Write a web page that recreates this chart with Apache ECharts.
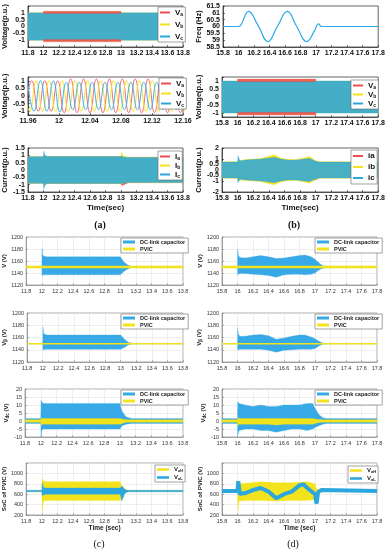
<!DOCTYPE html>
<html><head><meta charset="utf-8">
<script src="https://cdn.jsdelivr.net/npm/echarts/dist/echarts.min.js"></script>
<style>html,body{margin:0;padding:0;background:#fff}#c{width:388px;height:550px}</style>
</head><body><div id="c"></div><script>
// ---------- DATA ----------
// (a) top: three-phase voltage envelopes, 11.8-13.8 s
const A1_T = [11.8, 12.0, 12.001, 13.0, 13.001, 13.8];
const A1_VB_HI = [1, 1, 1.08, 1.08, 1, 1];
const A1_VB_LO = [-1, -1, -1.08, -1.08, -1, -1];
const A1_VC_HI = [1, 1, 1, 1, 1, 1];
const A1_VC_LO = [-1, -1, -1, -1, -1, -1];
const A1_VA_T = [12.0, 13.0];
const A1_VA_TOP_LO = [0.96, 0.96], A1_VA_TOP_HI = [1.12, 1.12];
const A1_VA_BOT_LO = [-1.12, -1.12], A1_VA_BOT_HI = [-0.96, -0.96];
// (b) top: frequency
const B1_T = [15.8, 16.0, 16.03, 16.13, 16.25, 16.38, 16.5, 16.63, 16.75, 16.88, 16.98, 17.03, 17.07, 17.8];
const B1_F = [60, 60, 60.1, 61.1, 60.1, 58.9, 60, 61.1, 60, 58.9, 59.7, 60.2, 60.0, 60];
// (a) middle: zoomed three-phase voltages (peaks / troughs)
const A2_VA_T = [11.9567,11.965,11.9733,11.9817,11.99,11.9983,12.0067,12.015,12.0233,12.0317,12.04,12.0483,12.0567,12.065,12.0733,12.0817,12.09,12.0983,12.1067,12.115,12.1233,12.1317,12.14,12.1483,12.1567,12.165];
const A2_VA_V = [-1,1,-1,1,-1,1,-1.1,1.12,-1.1,1.12,-1.1,1.12,-1.1,1.12,-1.1,1.12,-1.1,1.12,-1.1,1.12,-1.1,1.12,-1.1,1.12,-1.1,1.12];
const A2_VB_T = [11.9539,11.9622,11.9706,11.9789,11.9872,11.9956,12.0039,12.0122,12.0206,12.0289,12.0372,12.0456,12.0539,12.0622,12.0706,12.0789,12.0872,12.0956,12.1039,12.1122,12.1206,12.1289,12.1372,12.1456,12.1539,12.1622];
const A2_VB_V = [1,-1,1,-1,1,-1,1,-1,1,-1,1,-1,1,-1,1,-1,1,-1,1,-1,1,-1,1,-1,1,-1];
const A2_VC_T = [11.9594,11.9678,11.9761,11.9844,11.9928,12.0011,12.0094,12.0178,12.0261,12.0344,12.0428,12.0511,12.0594,12.0678,12.0761,12.0844,12.0928,12.1011,12.1094,12.1178,12.1261,12.1344,12.1428,12.1511,12.1594,12.1678];
const A2_VC_V = [1,-1,1,-1,1,-1.05,0.9,-0.9,0.9,-0.9,0.9,-0.9,0.9,-0.9,0.9,-0.9,0.9,-0.9,0.9,-0.9,0.9,-0.9,0.9,-0.9,0.9,-0.9];
// (b) middle: voltage envelopes, 15.8-17.8 s
const B2_T = [15.8, 16.0, 16.001, 17.0, 17.001, 17.8];
const B2_VB_HI = [1, 1, 1.08, 1.08, 1, 1];
const B2_VB_LO = [-1, -1, -1.08, -1.08, -1, -1];
const B2_VC_HI = [1, 1, 1, 1, 1, 1];
const B2_VC_LO = [-1, -1, -1, -1, -1, -1];
const B2_VA_T = [16.0, 17.0];
const B2_VA_TOP_LO = [0.96, 0.96], B2_VA_TOP_HI = [1.12, 1.12];
const B2_VA_BOT_LO = [-1.12, -1.12], B2_VA_BOT_HI = [-0.96, -0.96];
// (a) bottom: current envelopes
const A3_T = [11.8, 12.0, 12.004, 12.02, 12.05, 13.0, 13.004, 13.03, 13.1, 13.8];
const A3_IA_HI = [0.9, 0.9, 0.95, 0.93, 0.92, 0.92, 0.95, 0.9, 0.86, 0.86];
const A3_IA_LO = [-0.9, -0.9, -1.0, -0.95, -0.92, -0.92, -1.05, -1.02, -0.86, -0.86];
const A3_IB_HI = [0.9, 0.9, 1.0, 0.95, 0.92, 0.92, 1.22, 0.95, 0.86, 0.86];
const A3_IB_LO = [-0.9, -0.9, -1.2, -0.98, -0.92, -0.92, -1.0, -0.9, -0.86, -0.86];
const A3_IC_HI = [0.9, 0.9, 1.3, 1.0, 0.92, 0.92, 0.95, 0.88, 0.86, 0.86];
const A3_IC_LO = [-0.9, -0.9, -1.3, -1.0, -0.92, -0.92, -0.95, -0.9, -0.86, -0.86];
// (b) bottom: current envelopes
const B3_T = [15.8, 16.0, 16.004, 16.03, 16.1, 16.2, 16.3, 16.4, 16.47, 16.55, 16.65, 16.75, 16.85, 16.92, 17.0, 17.05, 17.8];
const B3_IA_HI = [0.7, 0.7, 0.72, 0.75, 0.8, 0.85, 0.9, 1.0, 1.05, 0.95, 0.85, 0.85, 0.95, 1.0, 0.78, 0.7, 0.7];
const B3_IA_LO = [-0.7, -0.7, -0.75, -0.75, -0.8, -0.85, -0.9, -1.0, -1.05, -0.95, -0.85, -0.85, -0.95, -1.0, -0.9, -0.7, -0.7];
const B3_IB_HI = [0.75, 0.75, 0.8, 0.85, 0.95, 1.0, 1.05, 1.25, 1.38, 1.1, 0.95, 0.95, 1.1, 1.22, 0.85, 0.75, 0.75];
const B3_IB_LO = [-0.75, -0.75, -1.1, -0.9, -0.95, -1.0, -1.05, -1.25, -1.35, -1.1, -0.95, -0.95, -1.1, -1.2, -0.85, -0.75, -0.75];
const B3_IC_HI = [0.72, 0.72, 1.3, 0.85, 0.9, 0.95, 1.0, 1.1, 1.15, 1.0, 0.9, 0.9, 1.0, 1.05, 0.8, 0.72, 0.72];
const B3_IC_LO = [-0.72, -0.72, -1.15, -0.85, -0.9, -0.95, -1.0, -1.1, -1.15, -1.0, -0.9, -0.9, -1.0, -1.05, -0.8, -0.72, -0.72];
// (c) V alpha
const C1_T = [11.8, 12.0, 12.003, 12.01, 12.03, 12.06, 12.1, 13.0, 13.05, 13.1, 13.15, 13.8];
const C1_DC_HI = [1151, 1151, 1181, 1170, 1168, 1167, 1167, 1167, 1158, 1153, 1151, 1151];
const C1_DC_LO = [1149, 1149, 1135, 1137, 1137, 1137, 1137, 1137, 1143, 1147, 1149, 1149];
const C1_PVIC = [1150, 1150, 1150, 1150, 1150, 1150, 1150, 1150, 1150, 1150, 1150, 1150];
// (c) V beta
const C2_DC_HI = [1150.5, 1150.5, 1177, 1167, 1165, 1164, 1164, 1164, 1157, 1152, 1150.5, 1150.5];
const C2_DC_LO = [1149.5, 1149.5, 1140, 1140, 1141, 1141, 1141, 1141, 1144, 1148, 1149.5, 1149.5];
const C2_PVIC = [1150, 1150, 1150, 1150, 1150, 1150, 1150, 1150, 1150, 1150, 1150, 1150];
// (c) Vdc
const C3_T = [11.8, 12.0, 12.003, 12.01, 12.03, 12.1, 13.0, 13.03, 13.08, 13.15, 13.8];
const C3_DC_HI = [1.5, 1.5, 13, 12, 11, 11, 11, 6, 2.5, 1.5, 1.5];
const C3_DC_LO = [-1.5, -1.5, -10, -6, -5, -5, -5, -3, -2, -1.5, -1.5];
const C3_PV_HI = [0.8, 0.8, 2, 1.6, 1.5, 1.5, 1.5, 1.2, 0.8, 0.8, 0.8];
const C3_PV_LO = [-0.8, -0.8, -3, -2, -2, -2, -2, -1.5, -0.8, -0.8, -0.8];
// (c) SoC of PVIC
const C4_T = [11.8, 12.0, 12.005, 12.02, 12.05, 12.1, 13.0, 13.02, 13.06, 13.1, 13.8];
const C4_VAH_HI = [670, 670, 900, 860, 840, 840, 840, 760, 700, 670, 670];
const C4_VAH_LO = [650, 650, 280, 470, 480, 480, 480, 540, 620, 650, 650];
const C4_VAL_HI = [675, 675, 820, 730, 720, 720, 720, 760, 690, 675, 675];
const C4_VAL_LO = [645, 645, 560, 590, 600, 600, 600, 470, 620, 645, 645];
// (d) V alpha
const D1_T = [15.8, 16.0, 16.003, 16.01, 16.03, 16.1, 16.2, 16.3, 16.4, 16.5, 16.6, 16.7, 16.8, 16.87, 16.95, 17.0, 17.05, 17.1, 17.15, 17.8];
const D1_DC_HI = [1151, 1151, 1180, 1170, 1166, 1165, 1167, 1169, 1167, 1164, 1165, 1167, 1169, 1170, 1167, 1163, 1157, 1152, 1151, 1151];
const D1_DC_LO = [1149, 1149, 1137, 1138, 1139, 1139, 1138, 1137, 1136, 1133, 1137, 1138, 1138, 1137, 1138, 1140, 1145, 1148, 1149, 1149];
const D1_PVIC = [1150, 1150, 1150, 1150, 1150, 1150, 1150, 1150, 1150, 1150, 1150, 1150, 1150, 1150, 1150, 1150, 1150, 1150, 1150, 1150];
// (d) V beta
const D2_DC_HI = [1150.5, 1150.5, 1176, 1166, 1162, 1162, 1164, 1165, 1163, 1157, 1159, 1162, 1164, 1164, 1161, 1158, 1154, 1151, 1150.5, 1150.5];
const D2_DC_LO = [1149.5, 1149.5, 1140, 1140, 1141, 1141, 1141, 1141, 1139, 1136, 1139, 1140, 1141, 1141, 1141, 1142, 1146, 1149, 1149.5, 1149.5];
const D2_PVIC = [1150, 1150, 1150, 1150, 1150, 1150, 1150, 1150, 1150, 1150, 1150, 1150, 1150, 1150, 1150, 1150, 1150, 1150, 1150, 1150];
// (d) Vdc
const D3_T = [15.8, 16.0, 16.003, 16.02, 16.1, 16.2, 16.3, 16.4, 16.5, 16.6, 16.7, 16.8, 16.9, 16.97, 17.0, 17.05, 17.1, 17.15, 17.8];
const D3_DC_HI = [1.5, 1.5, 12, 11, 10, 9, 10, 9, 9, 10, 10, 10, 11, 11, 8, 4, 2, 1.5, 1.5];
const D3_DC_LO = [-1.5, -1.5, -9, -6, -5, -5, -6, -6, -7, -6, -5, -5, -6, -5, -4, -3, -2, -1.5, -1.5];
const D3_PV_HI = [0.8, 0.8, 2, 1.5, 1.5, 1.5, 1.5, 1.5, 1.5, 1.5, 1.5, 1.5, 1.5, 1.5, 1.2, 0.9, 0.8, 0.8, 0.8];
const D3_PV_LO = [-0.8, -0.8, -3, -2, -2, -2, -2, -2, -2.5, -2, -2, -2, -2, -2, -1.5, -1, -0.8, -0.8, -0.8];
// (d) SoC of PVIC
const D4_T = [15.8, 16.0, 16.005, 16.02, 16.1, 16.3, 16.5, 16.7, 16.9, 17.0, 17.02, 17.06, 17.1, 17.8];
const D4_VAH_HI = [670, 670, 880, 800, 810, 840, 820, 820, 840, 800, 700, 690, 670, 670];
const D4_VAH_LO = [650, 650, 280, 470, 480, 480, 470, 480, 480, 500, 560, 620, 650, 650];
const D4_VAL_T = [15.8, 16.0, 16.01, 16.03, 16.06, 16.1, 16.2, 16.3, 16.4, 16.5, 16.55, 16.6, 16.7, 16.8, 16.85, 16.9, 17.0, 17.02, 17.04, 17.08, 17.1, 17.8];
const D4_VAL = [660, 660, 850, 600, 620, 620, 680, 720, 650, 520, 560, 600, 650, 770, 790, 720, 600, 420, 640, 680, 660, 660];

// ---------- CHART ----------
const RED = '#ef4e50', YEL = '#f2e31c', BLU = '#2ba6df', DCB = '#36a9e6';
const FONT = 'Liberation Sans';
const fmt = v => String(+(+v).toFixed(2));

const gridPos = [
  [25, 6, 158, 41], [223, 6, 156, 41],
  [25, 77, 158, 38], [222, 77, 157, 40],
  [25, 148, 158, 44], [222, 148, 157, 44],
  [25, 237, 158, 48], [222, 237, 155, 48],
  [25, 313, 158, 49], [222, 313, 155, 49],
  [25, 389, 158, 48], [222, 389, 155, 48],
  [25, 463, 158, 52], [222, 463, 155, 52]
];
const grid = gridPos.map((g, i) => ({left: g[0], top: g[1], width: g[2], height: g[3], show: true,
  borderColor: i < 6 ? '#222' : '#8a8a8a', borderWidth: 0.7, backgroundColor: '#fff'}));

function axisTop(gi, min, max, interval, hide) {
  return {gridIndex: gi, type: 'value', min, max, interval,
    axisLine: {onZero: false, lineStyle: {color: '#222', width: 0.7}},
    axisTick: {inside: true, length: 2, lineStyle: {color: '#222', width: 0.6}},
    splitLine: {show: false},
    axisLabel: {fontSize: 7, fontWeight: 'bold', color: '#111', fontFamily: FONT, margin: 3,
      showMinLabel: true, showMaxLabel: true,
      formatter: v => (hide && hide(v)) ? '' : fmt(v)}};
}
function axisBot(gi, min, max, interval, hide) {
  return {gridIndex: gi, type: 'value', min, max, interval,
    axisLine: {onZero: false, lineStyle: {color: '#777', width: 0.6}},
    axisTick: {inside: true, length: 2, lineStyle: {color: '#777', width: 0.5}},
    splitLine: {show: true, lineStyle: {color: '#e2e2e2', width: 0.6}},
    axisLabel: {fontSize: 5.5, color: '#333', fontFamily: FONT, margin: 3,
      showMinLabel: true, showMaxLabel: true,
      formatter: v => (hide && hide(v)) ? '' : fmt(v)}};
}
const topName = {fontSize: 7.5, fontWeight: 'bold', color: '#111', fontFamily: FONT};
const botName = {fontSize: 6, fontWeight: 'bold', color: '#222', fontFamily: FONT,
  rich: {m: {fontSize: 6, fontWeight: 'bold', fontFamily: FONT, color: '#222'},
         s: {fontSize: 4.5, fontWeight: 'bold', fontFamily: FONT, color: '#222', padding: [3, 0, 0, 0]}}};

const xAxis = [
  axisTop(0, 11.8, 13.8, 0.2), axisTop(1, 15.8, 17.8, 0.2),
  axisTop(2, 11.96, 12.16, 0.04), axisTop(3, 15.8, 17.8, 0.2),
  Object.assign(axisTop(4, 11.8, 13.8, 0.2), {name: 'Time(sec)', nameLocation: 'middle', nameGap: 12, nameTextStyle: {fontSize: 8, fontWeight: 'bold', color: '#111', fontFamily: FONT}}),
  Object.assign(axisTop(5, 15.8, 17.8, 0.2), {name: 'Time(sec)', nameLocation: 'middle', nameGap: 12, nameTextStyle: {fontSize: 8, fontWeight: 'bold', color: '#111', fontFamily: FONT}}),
  axisBot(6, 11.8, 13.8, 0.2), axisBot(7, 15.8, 17.8, 0.2),
  axisBot(8, 11.8, 13.8, 0.2), axisBot(9, 15.8, 17.8, 0.2),
  axisBot(10, 11.8, 13.8, 0.2), axisBot(11, 15.8, 17.8, 0.2),
  Object.assign(axisBot(12, 11.8, 13.8, 0.2), {name: 'Time (sec)', nameLocation: 'middle', nameGap: 9, nameTextStyle: {fontSize: 6.5, fontWeight: 'bold', color: '#222', fontFamily: FONT}}),
  Object.assign(axisBot(13, 15.8, 17.8, 0.2), {name: 'Time (sec)', nameLocation: 'middle', nameGap: 9, nameTextStyle: {fontSize: 6.5, fontWeight: 'bold', color: '#222', fontFamily: FONT}})
];
const hide1 = v => Math.abs(v) > 1.01 || Math.abs(v * 2 - Math.round(v * 2)) > 0.01;
function yn(ax, name, gap, style) { return Object.assign(ax, {name, nameLocation: 'middle', nameGap: gap, nameRotate: 90, nameTextStyle: style}); }
const yAxis = [
  yn(axisTop(0, -1.5, 1.5, 0.5, hide1), 'Voltage(p.u.)', 13, topName),
  yn(axisTop(1, 58.5, 61.5, 0.5), 'Freq (Hz)', 20, topName),
  yn(axisTop(2, -1.25, 1.25, 0.25, hide1), 'Voltage(p.u.)', 13, topName),
  yn(axisTop(3, -1.25, 1.25, 0.25, hide1), 'Voltage(p.u.)', 13, topName),
  yn(axisTop(4, -1.5, 1.5, 0.5), 'Current(p.u.)', 15, topName),
  yn(axisTop(5, -2, 2, 0.5), 'Current(p.u.)', 15, topName),
  yn(axisBot(6, 1120, 1200, 20), 'V (V)', 15, botName),
  yn(axisBot(7, 1120, 1200, 20), 'V (V)', 15, botName),
  yn(axisBot(8, 1120, 1200, 20), '{m|V}{s|β}{m| (V)}', 15, botName),
  yn(axisBot(9, 1120, 1200, 20), '{m|V}{s|β}{m| (V)}', 15, botName),
  yn(axisBot(10, -10, 20, 5), '{m|V}{s|dc}{m| (V)}', 10, botName),
  yn(axisBot(11, -10, 20, 5), '{m|V}{s|dc}{m| (V)}', 10, botName),
  yn(axisBot(12, 200, 1200, 200, v => v > 1100), 'SoC of PVIC (V)', 13, botName),
  yn(axisBot(13, 200, 1200, 200, v => v > 1100), 'SoC of PVIC (V)', 13, botName)
];

function band(gi, name, t, lo, hi, color, opacity) {
  return {type: 'custom', name, xAxisIndex: gi, yAxisIndex: gi, clip: true, silent: true,
    itemStyle: {color}, encode: {x: 0, y: [1, 2]},
    data: t.map((x, i) => [x, lo[i], hi[i]]),
    renderItem: function (params, api) {
      if (params.dataIndexInside !== 0) return null;
      const n = t.length, up = [], dn = [];
      for (let i = 0; i < n; i++) {
        const x = api.value(0, i);
        up.push(api.coord([x, api.value(2, i)]));
        dn.push(api.coord([x, api.value(1, i)]));
      }
      return {type: 'polygon', shape: {points: up.concat(dn.reverse())},
        style: {fill: color, opacity: opacity == null ? 1 : opacity, stroke: color, lineWidth: 0.3}};
    }};
}
function line(gi, name, t, v, color, width, smooth) {
  return {type: 'line', name, xAxisIndex: gi, yAxisIndex: gi, symbol: 'none', smooth: smooth || false,
    silent: true, itemStyle: {color}, lineStyle: {color, width},
    data: t.map((x, i) => [x, v[i]])};
}

const series = [
  // a1
  band(0, 'Vb', A1_T, A1_VB_LO, A1_VB_HI, YEL),
  band(0, 'Vc', A1_T, A1_VC_LO, A1_VC_HI, BLU, 0.88),
  band(0, 'Va', A1_VA_T, A1_VA_TOP_LO, A1_VA_TOP_HI, RED, 0.85),
  band(0, 'Va', A1_VA_T, A1_VA_BOT_LO, A1_VA_BOT_HI, RED, 0.85),
  // b1
  line(1, 'Freq', B1_T, B1_F, '#2aa9e6', 1.2, 0.45),
  // a2
  line(2, 'Va', A2_VA_T, A2_VA_V, '#f26a70', 1, 0.5),
  line(2, 'Vb', A2_VB_T, A2_VB_V, '#f4e32a', 1, 0.5),
  line(2, 'Vc', A2_VC_T, A2_VC_V, '#3cb2ee', 1, 0.5),
  // b2
  band(3, 'Vb', B2_T, B2_VB_LO, B2_VB_HI, YEL),
  band(3, 'Vc', B2_T, B2_VC_LO, B2_VC_HI, BLU, 0.88),
  band(3, 'Va', B2_VA_T, B2_VA_TOP_LO, B2_VA_TOP_HI, RED, 0.85),
  band(3, 'Va', B2_VA_T, B2_VA_BOT_LO, B2_VA_BOT_HI, RED, 0.85),
  // a3
  band(4, 'Ia', A3_T, A3_IA_LO, A3_IA_HI, RED),
  band(4, 'Ib', A3_T, A3_IB_LO, A3_IB_HI, YEL),
  band(4, 'Ic', A3_T, A3_IC_LO, A3_IC_HI, BLU, 0.88),
  // b3
  band(5, 'ia', B3_T, B3_IA_LO, B3_IA_HI, RED),
  band(5, 'ib', B3_T, B3_IB_LO, B3_IB_HI, YEL),
  band(5, 'ic', B3_T, B3_IC_LO, B3_IC_HI, BLU, 0.85),
  // c1 / d1
  band(6, 'DC-link capacitor', C1_T, C1_DC_LO, C1_DC_HI, DCB),
  line(6, 'PVIC', C1_T, C1_PVIC, YEL, 2.5),
  band(7, 'DC-link capacitor', D1_T, D1_DC_LO, D1_DC_HI, DCB),
  line(7, 'PVIC', D1_T, D1_PVIC, YEL, 2.5),
  // c2 / d2
  band(8, 'DC-link capacitor', C1_T, C2_DC_LO, C2_DC_HI, DCB),
  line(8, 'PVIC', C1_T, C2_PVIC, YEL, 1.5),
  band(9, 'DC-link capacitor', D1_T, D2_DC_LO, D2_DC_HI, DCB),
  line(9, 'PVIC', D1_T, D2_PVIC, YEL, 1.5),
  // c3 / d3
  band(10, 'DC-link capacitor', C3_T, C3_DC_LO, C3_DC_HI, DCB),
  band(10, 'PVIC', C3_T, C3_PV_LO, C3_PV_HI, YEL),
  band(11, 'DC-link capacitor', D3_T, D3_DC_LO, D3_DC_HI, DCB),
  band(11, 'PVIC', D3_T, D3_PV_LO, D3_PV_HI, YEL),
  // c4 / d4
  band(12, 'VaH', C4_T, C4_VAH_LO, C4_VAH_HI, YEL),
  band(12, 'VaL', C4_T, C4_VAL_LO, C4_VAL_HI, BLU),
  band(13, 'VaH', D4_T, D4_VAH_LO, D4_VAH_HI, YEL),
  line(13, 'VaL', D4_VAL_T, D4_VAL, BLU, 4)
];

const richTop = {m: {fontSize: 8, fontWeight: 'bold', fontFamily: FONT, color: '#111', lineHeight: 10},
                 s: {fontSize: 5, fontWeight: 'bold', fontFamily: FONT, color: '#111', lineHeight: 10, padding: [4, 0, 0, 0]}};
const richBot = {m: {fontSize: 6, fontWeight: 'bold', fontFamily: FONT, color: '#222', lineHeight: 8},
                 s: {fontSize: 4, fontWeight: 'bold', fontFamily: FONT, color: '#222', lineHeight: 8, padding: [3, 0, 0, 0]}};
function sub(n) { return '{m|' + n.charAt(0) + '}{s|' + n.slice(1) + '}'; }
function lg(left, top, names, opts) {
  return Object.assign({left, top, orient: 'vertical', data: names, selectedMode: false,
    backgroundColor: '#fff', borderColor: '#666', borderWidth: 0.6, padding: [1, 2, 1, 2],
    itemGap: 2, itemWidth: 10, itemHeight: 2, icon: 'rect',
    textStyle: {rich: richTop, fontSize: 8, fontWeight: 'bold', fontFamily: FONT, padding: [0, 0, 0, 0]},
    formatter: sub}, opts || {});
}
const plainTop = {textStyle: {fontSize: 8, fontWeight: 'bold', fontFamily: FONT, color: '#111', lineHeight: 10}, formatter: n => n};
const dcOpts = {itemWidth: 12, itemHeight: 3, itemGap: 1, padding: [1, 3, 1, 2],
  textStyle: {fontSize: 5.5, fontWeight: 'bold', fontFamily: FONT, color: '#222'}, formatter: n => n};
const socOpts = {itemWidth: 12, itemHeight: 2.5, itemGap: 1, padding: [1, 2, 1, 2],
  textStyle: {rich: richBot, fontSize: 6, fontFamily: FONT}, formatter: sub};

const legend = [
  lg(158, 7, ['Va', 'Vb', 'Vc'], {itemGap: 3}),
  lg(159, 78, ['Va', 'Vb', 'Vc'], {itemGap: 1}),
  lg(351, 80, ['Va', 'Vb', 'Vc'], {itemGap: 0}),
  lg(158, 151, ['Ia', 'Ib', 'Ic'], {itemGap: 0}),
  lg(351, 150, ['ia', 'ib', 'ic'], Object.assign({itemGap: 1}, plainTop)),
  lg(121, 238, ['DC-link capacitor', 'PVIC'], dcOpts),
  lg(315, 238, ['DC-link capacitor', 'PVIC'], dcOpts),
  lg(121, 314, ['DC-link capacitor', 'PVIC'], dcOpts),
  lg(315, 314, ['DC-link capacitor', 'PVIC'], dcOpts),
  lg(121, 390, ['DC-link capacitor', 'PVIC'], dcOpts),
  lg(315, 390, ['DC-link capacitor', 'PVIC'], dcOpts),
  lg(155, 465, ['VaH', 'VaL'], socOpts),
  lg(348, 466, ['VaH', 'VaL'], socOpts)
];

const graphic = [
  {type: 'text', x: 100, y: 225, style: {text: '(a)', font: 'bold 10px "Liberation Serif"', fill: '#111', align: 'center', verticalAlign: 'middle'}},
  {type: 'text', x: 294, y: 225, style: {text: '(b)', font: 'bold 10px "Liberation Serif"', fill: '#111', align: 'center', verticalAlign: 'middle'}},
  {type: 'text', x: 99, y: 544, style: {text: '(c)', font: '10px "Liberation Serif"', fill: '#111', align: 'center', verticalAlign: 'middle'}},
  {type: 'text', x: 293, y: 544, style: {text: '(d)', font: '10px "Liberation Serif"', fill: '#111', align: 'center', verticalAlign: 'middle'}}
];

const chart = echarts.init(document.getElementById('c'));
chart.setOption({animation: false, backgroundColor: '#fff', grid, xAxis, yAxis, series, legend, graphic});
</script></body></html>
